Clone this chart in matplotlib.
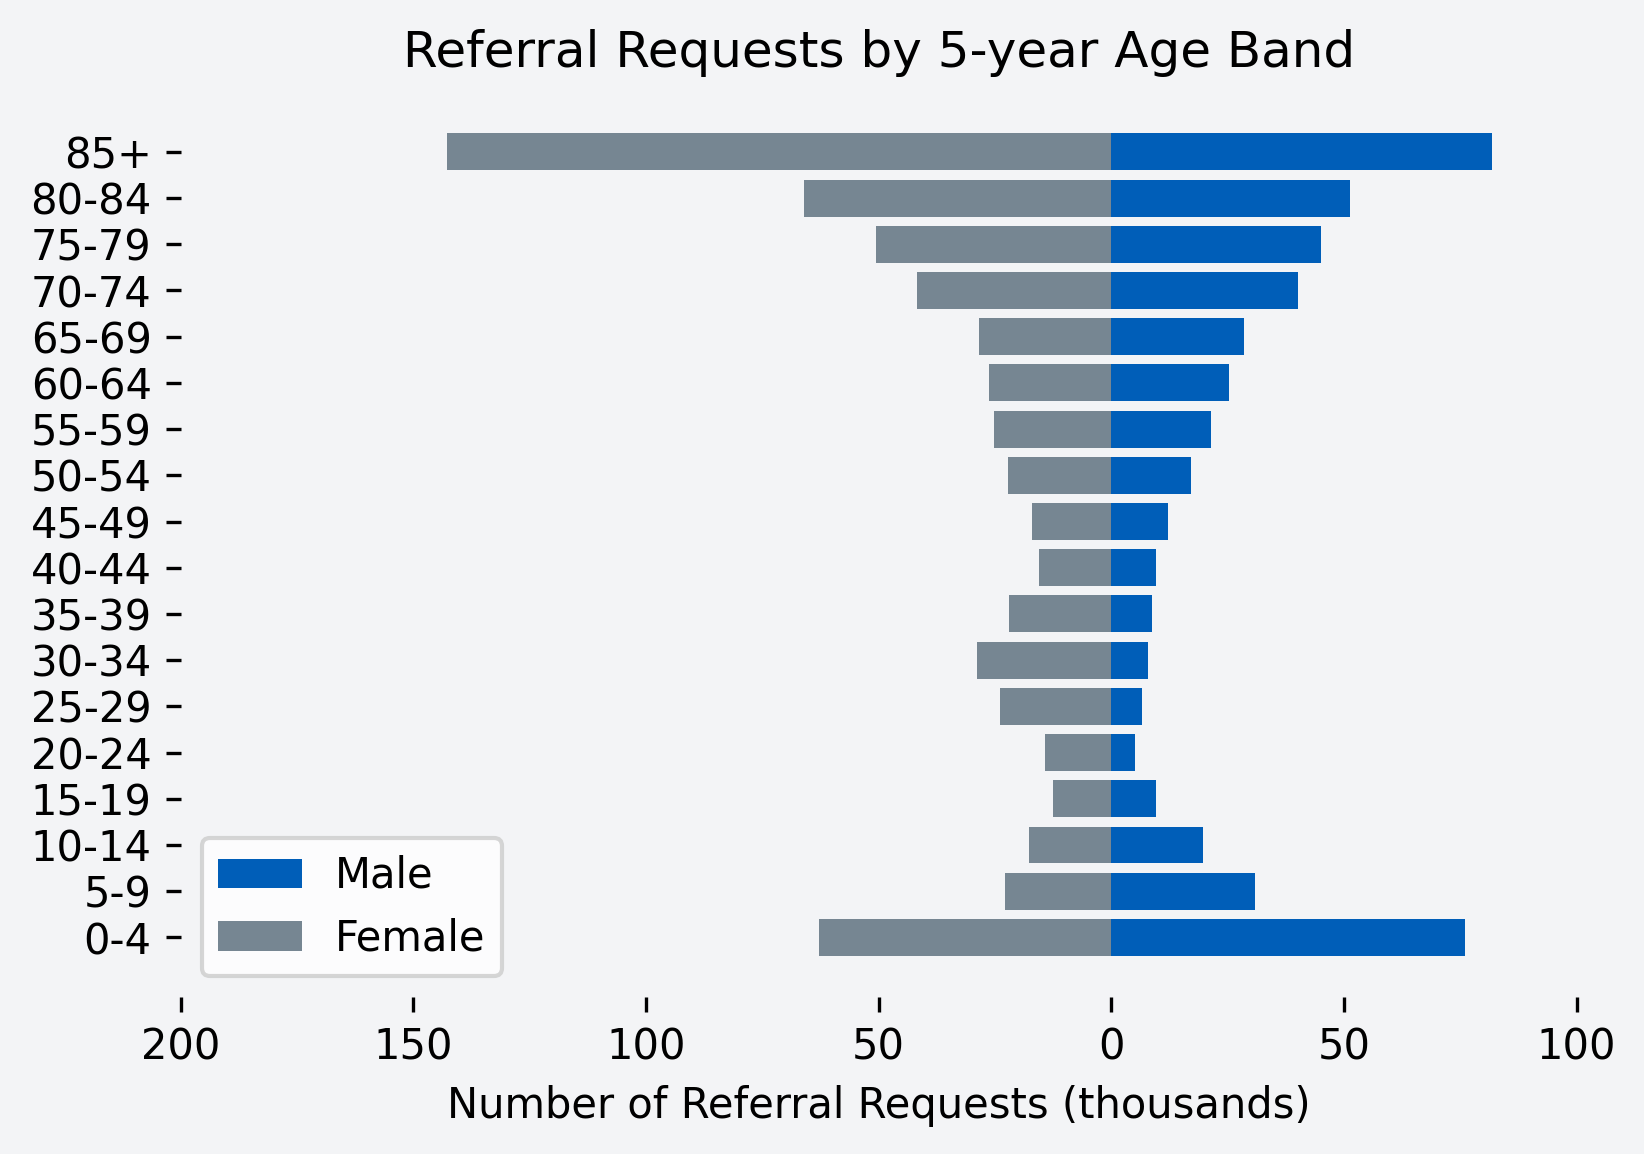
import matplotlib.pyplot as plt
import numpy as np

age_bands = ["0-4", "5-9", "10-14", "15-19", "20-24", "25-29", "30-34", "35-39",
             "40-44", "45-49", "50-54", "55-59", "60-64", "65-69", "70-74",
             "75-79", "80-84", "85+"]
male = [76.0, 30.9, 19.8, 9.7, 5.0, 6.5, 7.9, 8.8, 9.5, 12.2, 17.1, 21.4,
        25.3, 28.6, 40.1, 45.1, 51.4, 81.8]
female = [62.9, 22.8, 17.6, 12.6, 14.2, 23.9, 28.9, 22.1, 15.6, 17.1, 22.3,
          25.3, 26.2, 28.4, 41.7, 50.5, 66.1, 142.7]
xticks = [-200, -150, -100, -50, 0, 50, 100]

bg = "#f3f4f6"
fig = plt.figure(figsize=(5.48, 3.847), dpi=300, facecolor=bg)
ax = fig.add_axes([0.11, 0.136, 0.849, 0.784], facecolor=bg)

y = np.arange(len(age_bands))
ax.barh(y, male, color="#005EB8", label="Male")
ax.barh(y, [-v for v in female], color="#768692", label="Female")

ax.set_yticks(y)
ax.set_yticklabels(age_bands)
ax.set_xticks(xticks)
ax.set_xticklabels([str(abs(t)) for t in xticks])
ax.set_xlim(-200, 100)
for s in ax.spines.values():
    s.set_visible(False)

ax.set_title("Referral Requests by 5-year Age Band", fontsize=12, pad=6)
ax.set_xlabel("Number of Referral Requests (thousands)", fontsize=10)
ax.legend(loc="lower left", fontsize=10)

fig.savefig("out.png", dpi=300, facecolor=bg)
